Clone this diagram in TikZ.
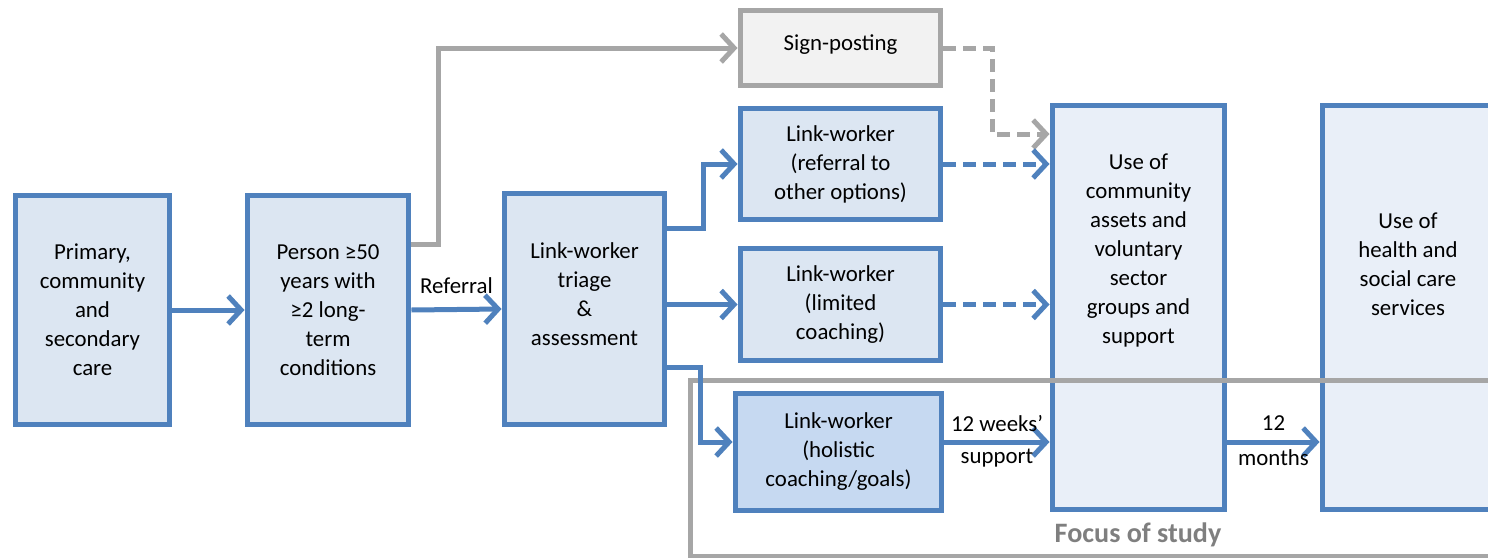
\documentclass[tikz,border=0pt]{standalone}
\usepackage{fontspec}
\setmainfont{Carlito}
\usetikzlibrary{positioning}
\usetikzlibrary{arrows.meta}

\definecolor{lwblue}{HTML}{4F81BD}
\definecolor{lwfill}{HTML}{DCE6F2}
\definecolor{lwdark}{HTML}{C6D9F1}
\definecolor{lwlight}{HTML}{E9EFF8}
\definecolor{lwgrey}{HTML}{A6A6A6}
\definecolor{lwgreyfill}{HTML}{F2F2F2}
\definecolor{lwtext}{HTML}{7F7F7F}

\tikzset{
	box/.style={draw=lwblue, fill=lwfill, line width=0.1cm, align=center, inner sep=0pt, font=\fontsize{13}{16.5}\selectfont},
	greybox/.style={box, draw=lwgrey, fill=lwgreyfill},
	txt/.style={align=center, inner sep=0pt, font=\fontsize{13}{16.5}\selectfont},
	arr/.style={draw=lwblue, line width=0.1cm, -{Straight Barb[length=0.26cm, width=0.56cm]}},
	greyarr/.style={arr, draw=lwgrey},
	dasharr/.style={arr, dash pattern=on 0.26cm off 0.14cm},
}

\begin{document}
\begin{tikzpicture}[x=0.02cm, y=-0.02cm]
	\useasboundingbox (0,0) rectangle (1488,558);
	\clip (0,0) rectangle (1488,558);
	%% left column
	\node[box, minimum width=3.1cm, minimum height=4.6cm] (pri) at (92.5,310) {Primary,\\community\\and\\secondary\\care};
	\node[box, minimum width=3.24cm, minimum height=4.6cm] (per) at (328,310) {Person ≥50\\years with\\≥2 long-\\term\\conditions};
	\node[box, minimum width=3.22cm, minimum height=4.64cm] (tri) at (584.5,309) {};
	\node[txt] (tritxt) at (584.5,294) {Link-worker\\triage\\\&\\assessment};
	%% middle column
	\node[greybox, minimum width=4.02cm, minimum height=1.5cm] (sig) at (840.5,48) {\raisebox{0.2cm}{Sign-posting}};
	\node[box, minimum width=4.02cm, minimum height=2.24cm] (ref) at (840.5,164) {Link-worker\\(referral to\\other options)};
	\node[box, minimum width=4.02cm, minimum height=2.26cm] (lim) at (840.5,304.5) {Link-worker\\(limited\\coaching)};
	\node[box, fill=lwdark, minimum width=4.14cm, minimum height=2.36cm] (hol) at (838.5,452) {Link-worker\\(holistic\\coaching/goals)};
	%% right column
	\node[box, fill=lwlight, minimum width=3.46cm, minimum height=8.1cm] (com) at (1138.5,307.5) {};
	\node[txt] (comtxt) at (1138.5,250.5) {Use of\\community\\assets and\\voluntary\\sector\\groups and\\support};
	\node[box, fill=lwlight, minimum width=3.48cm, minimum height=8.1cm] (hel) at (1409,307.5) {};
	\node[txt] (heltxt) at (1408,264) {Use of\\health and\\social care\\services};
	% focus of study frame
	\draw[draw=lwgrey, line width=0.1cm] (690,380) rectangle (1500,556);
	\node[font=\fontsize{16}{19}\selectfont\bfseries, text=lwtext] (fos) at (1138,535) {Focus of study};
	% connectors
	\coordinate (wk) at ([yshift=0.2cm]hol.east);
	\draw[arr] (pri.east) -- (per.west);
	\draw[arr] (per.east) -- (tri.west) node[midway, above=0.26cm, txt] {Referral};
	\draw[greyarr] ([yshift=1.32cm]per.east) -- ++(27,0) |- (sig.west);
	\draw[greyarr, dash pattern=on 0.26cm off 0.14cm] (sig.east) -- ++(49,0) |- ([yshift=3.47cm]com.west);
	\draw[arr] ([yshift=1.62cm]tri.east) -- ++(36,0) |- (ref.west);
	\draw[arr] (tri.east |- lim.west) -- (lim.west);
	\draw[arr] ([yshift=-1.18cm]tri.east) -- ++(33,0) |- (wk -| hol.west);
	\draw[dasharr] (ref.east) -- (ref.east -| com.west);
	\draw[dasharr] (lim.east) -- (lim.east -| com.west);
	\draw[arr] (wk) -- (wk -| com.west) node[midway, above=0.16cm, txt] {12 weeks’} node[midway, below=0.1cm, txt] {support};
	\draw[arr] (wk -| com.east) -- (wk -| hel.west) node[midway, above=0.18cm, txt] {12} node[midway, below=0.1cm, txt] {months};
\end{tikzpicture}
\end{document}
